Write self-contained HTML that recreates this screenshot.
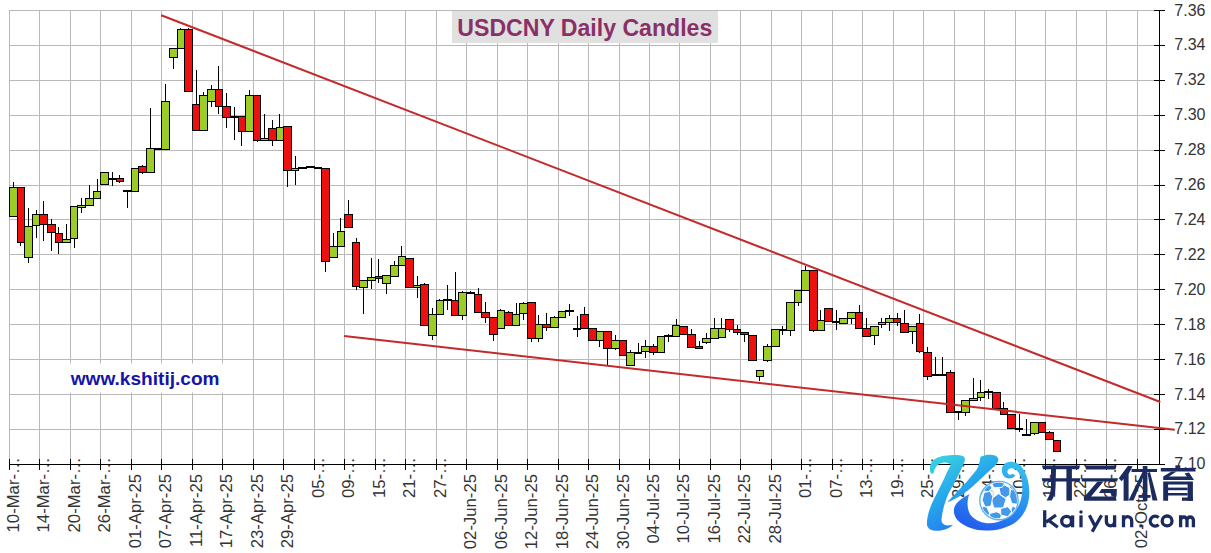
<!DOCTYPE html><html><head><meta charset="utf-8"><style>html,body{margin:0;padding:0;background:#fff;width:1211px;height:553px;overflow:hidden}svg{display:block}text{font-family:"Liberation Sans",sans-serif}</style></head><body>
<svg width="1211" height="553" viewBox="0 0 1211 553">
<rect width="1211" height="553" fill="#fff"/>
<path d="M9.5 10V464.5M39.5 10V464.5M70.5 10V464.5M100.5 10V464.5M131.5 10V464.5M161.5 10V464.5M192.5 10V464.5M222.5 10V464.5M253.5 10V464.5M283.5 10V464.5M314.5 10V464.5M344.5 10V464.5M375.5 10V464.5M405.5 10V464.5M436.5 10V464.5M466.5 10V464.5M497.5 10V464.5M527.5 10V464.5M558.5 10V464.5M588.5 10V464.5M619.5 10V464.5M649.5 10V464.5M679.5 10V464.5M710.5 10V464.5M740.5 10V464.5M771.5 10V464.5M801.5 10V464.5M832.5 10V464.5M862.5 10V464.5M893.5 10V464.5M923.5 10V464.5M954.5 10V464.5M984.5 10V464.5M1015.5 10V464.5M1045.5 10V464.5M1076.5 10V464.5M1106.5 10V464.5M1137.5 10V464.5M9.5 10.5H1159.5M9.5 45.5H1159.5M9.5 80.5H1159.5M9.5 115.5H1159.5M9.5 150.5H1159.5M9.5 185.5H1159.5M9.5 219.5H1159.5M9.5 254.5H1159.5M9.5 289.5H1159.5M9.5 324.5H1159.5M9.5 359.5H1159.5M9.5 394.5H1159.5M9.5 429.5H1159.5" stroke="#b9b9b9" stroke-width="1" fill="none"/>
<rect x="452" y="11" width="266" height="32" fill="#e0e0e0"/>
<rect x="66" y="363.5" width="158" height="29" fill="#fff"/>
<path d="M9 464.5H1165M1159.5 10V464.5M9.5 459V470M39.5 459V470M70.5 459V470M100.5 459V470M131.5 459V470M161.5 459V470M192.5 459V470M222.5 459V470M253.5 459V470M283.5 459V470M314.5 459V470M344.5 459V470M375.5 459V470M405.5 459V470M436.5 459V470M466.5 459V470M497.5 459V470M527.5 459V470M558.5 459V470M588.5 459V470M619.5 459V470M649.5 459V470M679.5 459V470M710.5 459V470M740.5 459V470M771.5 459V470M801.5 459V470M832.5 459V470M862.5 459V470M893.5 459V470M923.5 459V470M954.5 459V470M984.5 459V470M1015.5 459V470M1045.5 459V470M1076.5 459V470M1106.5 459V470M1137.5 459V470M1154 10.5H1165M1154 45.5H1165M1154 80.5H1165M1154 115.5H1165M1154 150.5H1165M1154 185.5H1165M1154 219.5H1165M1154 254.5H1165M1154 289.5H1165M1154 324.5H1165M1154 359.5H1165M1154 394.5H1165M1154 429.5H1165M1154 464.5H1165" stroke="#000" stroke-width="1" fill="none"/>
<g font-size="16" fill="#333"><text x="1174.3" y="15.5">7.36</text><text x="1174.3" y="50.41">7.34</text><text x="1174.3" y="85.32">7.32</text><text x="1174.3" y="120.23">7.30</text><text x="1174.3" y="155.14">7.28</text><text x="1174.3" y="190.05">7.26</text><text x="1174.3" y="224.96">7.24</text><text x="1174.3" y="259.87">7.22</text><text x="1174.3" y="294.78">7.20</text><text x="1174.3" y="329.69">7.18</text><text x="1174.3" y="364.6">7.16</text><text x="1174.3" y="399.51">7.14</text><text x="1174.3" y="434.42">7.12</text><text x="1174.3" y="469.33">7.10</text></g>
<g font-size="16.7" fill="#333"><text transform="translate(18.9 457.3) rotate(-90)" text-anchor="end">10-Mar-…</text><text transform="translate(49.38 457.3) rotate(-90)" text-anchor="end">14-Mar-…</text><text transform="translate(79.86 457.3) rotate(-90)" text-anchor="end">20-Mar-…</text><text transform="translate(110.34 457.3) rotate(-90)" text-anchor="end">26-Mar-…</text><text transform="translate(140.82 474) rotate(-90)" text-anchor="end">01-Apr-25</text><text transform="translate(171.3 474) rotate(-90)" text-anchor="end">07-Apr-25</text><text transform="translate(201.78 474) rotate(-90)" text-anchor="end">11-Apr-25</text><text transform="translate(232.26 474) rotate(-90)" text-anchor="end">17-Apr-25</text><text transform="translate(262.74 474) rotate(-90)" text-anchor="end">23-Apr-25</text><text transform="translate(293.22 474) rotate(-90)" text-anchor="end">29-Apr-25</text><text transform="translate(323.7 457.3) rotate(-90)" text-anchor="end">05-…</text><text transform="translate(354.18 457.3) rotate(-90)" text-anchor="end">09-…</text><text transform="translate(384.66 457.3) rotate(-90)" text-anchor="end">15-…</text><text transform="translate(415.14 457.3) rotate(-90)" text-anchor="end">21-…</text><text transform="translate(445.62 457.3) rotate(-90)" text-anchor="end">27-…</text><text transform="translate(476.1 474) rotate(-90)" text-anchor="end">02-Jun-25</text><text transform="translate(506.58 474) rotate(-90)" text-anchor="end">06-Jun-25</text><text transform="translate(537.06 474) rotate(-90)" text-anchor="end">12-Jun-25</text><text transform="translate(567.54 474) rotate(-90)" text-anchor="end">18-Jun-25</text><text transform="translate(598.02 474) rotate(-90)" text-anchor="end">24-Jun-25</text><text transform="translate(628.5 474) rotate(-90)" text-anchor="end">30-Jun-25</text><text transform="translate(658.98 474) rotate(-90)" text-anchor="end">04-Jul-25</text><text transform="translate(689.46 474) rotate(-90)" text-anchor="end">10-Jul-25</text><text transform="translate(719.94 474) rotate(-90)" text-anchor="end">16-Jul-25</text><text transform="translate(750.42 474) rotate(-90)" text-anchor="end">22-Jul-25</text><text transform="translate(780.9 474) rotate(-90)" text-anchor="end">28-Jul-25</text><text transform="translate(811.38 457.3) rotate(-90)" text-anchor="end">01-…</text><text transform="translate(841.86 457.3) rotate(-90)" text-anchor="end">07-…</text><text transform="translate(872.34 457.3) rotate(-90)" text-anchor="end">13-…</text><text transform="translate(902.82 457.3) rotate(-90)" text-anchor="end">19-…</text><text transform="translate(933.3 457.3) rotate(-90)" text-anchor="end">25-…</text><text transform="translate(963.78 457.3) rotate(-90)" text-anchor="end">29-…</text><text transform="translate(994.26 457.3) rotate(-90)" text-anchor="end">04-…</text><text transform="translate(1024.74 457.3) rotate(-90)" text-anchor="end">10-…</text><text transform="translate(1055.22 457.3) rotate(-90)" text-anchor="end">16-…</text><text transform="translate(1085.7 457.3) rotate(-90)" text-anchor="end">22-…</text><text transform="translate(1116.18 457.3) rotate(-90)" text-anchor="end">26-…</text><text transform="translate(1146.66 474) rotate(-90)" text-anchor="end">02-Oct-25</text></g>
<path d="M13.5 182V187M20.5 242V246M28.5 208V226M28.5 257V263M36.5 210V214M36.5 225V238M43.5 201V214M43.5 224V241M51.5 219V224M51.5 232V251M58.5 227V233M58.5 242V254M66.5 224V239M74.5 238V248M81.5 198V205M81.5 207V213M89.5 185V198M97.5 179V191M112.5 172V179M112.5 179V186M119.5 175V178M119.5 181V183M127.5 191V208M142.5 165V166M142.5 172V174M150.5 108V148M165.5 84V101M173.5 57V69M180.5 28V29M188.5 28V29M196.5 70V104M203.5 92V95M211.5 85V89M211.5 101V107M218.5 66V89M218.5 106V114M226.5 93V106M226.5 117V128M234.5 107V117M234.5 117V140M241.5 131V146M249.5 90V95M257.5 140V142M264.5 114V138M264.5 140V141M272.5 120V128M272.5 140V146M279.5 114V127M287.5 170V187M295.5 156V168M295.5 170V185M325.5 261V272M333.5 233V246M340.5 218V231M348.5 200V214M356.5 238V242M356.5 286V290M363.5 287V314M371.5 258V277M371.5 280V289M378.5 259V276M378.5 278V283M386.5 283V294M394.5 261V265M401.5 246V256M417.5 276V285M417.5 287V298M424.5 283V284M432.5 308V314M432.5 335V340M439.5 299V300M447.5 285V300M447.5 300V310M455.5 272V300M462.5 291V292M462.5 315V320M470.5 291V293M478.5 288V294M478.5 312V313M485.5 302V312M485.5 317V323M493.5 334V341M500.5 309V310M508.5 311V312M516.5 303V314M523.5 302V303M523.5 313V320M531.5 338V342M538.5 315V324M538.5 338V342M546.5 313V324M546.5 327V331M554.5 316V317M569.5 304V311M569.5 311V316M577.5 316V329M577.5 329V337M584.5 307V314M599.5 340V347M607.5 348V365M615.5 335V340M615.5 348V350M622.5 355V355M630.5 350V352M638.5 343V352M645.5 340V346M645.5 351V358M653.5 344V346M653.5 352V355M668.5 334V336M668.5 336V342M676.5 319V325M691.5 329V334M691.5 347V348M699.5 341V346M706.5 333V338M706.5 342V344M714.5 318V328M721.5 318V328M729.5 329V332M737.5 325V329M737.5 332V335M744.5 334V342M759.5 376V381M767.5 344V346M767.5 360V362M782.5 326V330M782.5 330V335M790.5 330V336M798.5 302V306M805.5 266V270M813.5 330V332M820.5 310V320M836.5 310V322M836.5 322V330M843.5 318V318M851.5 318V324M859.5 305V312M866.5 318V328M874.5 335V345M881.5 318V322M881.5 324V328M889.5 315V318M889.5 322V331M897.5 313V318M897.5 322V326M904.5 310V323M912.5 331V344M919.5 314V323M919.5 351V353M927.5 347V352M927.5 376V380M935.5 357V375M942.5 357V375M950.5 370V372M958.5 412V420M965.5 412V416M973.5 378V398M980.5 380V392M980.5 397V401M988.5 389V392M988.5 392V399M1003.5 402V408M1019.5 414V429M1019.5 429V432M1026.5 419V434M1034.5 433V435M1049.5 431V432" stroke="#000" stroke-width="1" fill="none"/>
<rect x="9.5" y="187.5" width="8" height="29" fill="#9bcc28" stroke="#000" stroke-width="1"/><rect x="17.5" y="187.5" width="7" height="55" fill="#ec1010" stroke="#000" stroke-width="1"/><rect x="24.5" y="226.5" width="8" height="31" fill="#9bcc28" stroke="#000" stroke-width="1"/><rect x="32.5" y="214.5" width="7" height="11" fill="#9bcc28" stroke="#000" stroke-width="1"/><rect x="39.5" y="214.5" width="8" height="10" fill="#ec1010" stroke="#000" stroke-width="1"/><rect x="47.5" y="224.5" width="8" height="8" fill="#ec1010" stroke="#000" stroke-width="1"/><rect x="55.5" y="233.5" width="7" height="9" fill="#ec1010" stroke="#000" stroke-width="1"/><rect x="62.5" y="239.5" width="8" height="3" fill="#9bcc28" stroke="#000" stroke-width="1"/><rect x="70.5" y="206.5" width="7" height="32" fill="#9bcc28" stroke="#000" stroke-width="1"/><rect x="77.5" y="205.5" width="8" height="2" fill="#9bcc28" stroke="#000" stroke-width="1"/><rect x="85.5" y="198.5" width="8" height="7" fill="#9bcc28" stroke="#000" stroke-width="1"/><rect x="93.5" y="191.5" width="7" height="7" fill="#9bcc28" stroke="#000" stroke-width="1"/><rect x="100.5" y="172.5" width="8" height="12" fill="#9bcc28" stroke="#000" stroke-width="1"/><rect x="108" y="178" width="9" height="2" fill="#000"/><rect x="116.5" y="178.5" width="7" height="3" fill="#ec1010" stroke="#000" stroke-width="1"/><rect x="123" y="190" width="9" height="2" fill="#000"/><rect x="131.5" y="168.5" width="7" height="23" fill="#9bcc28" stroke="#000" stroke-width="1"/><rect x="138.5" y="166.5" width="8" height="6" fill="#ec1010" stroke="#000" stroke-width="1"/><rect x="146.5" y="148.5" width="8" height="24" fill="#9bcc28" stroke="#000" stroke-width="1"/><rect x="154" y="148" width="8" height="2" fill="#000"/><rect x="161.5" y="101.5" width="8" height="48" fill="#9bcc28" stroke="#000" stroke-width="1"/><rect x="169.5" y="48.5" width="8" height="9" fill="#9bcc28" stroke="#000" stroke-width="1"/><rect x="177.5" y="29.5" width="7" height="19" fill="#9bcc28" stroke="#000" stroke-width="1"/><rect x="184.5" y="29.5" width="8" height="62" fill="#ec1010" stroke="#000" stroke-width="1"/><rect x="192.5" y="104.5" width="7" height="26" fill="#ec1010" stroke="#000" stroke-width="1"/><rect x="199.5" y="95.5" width="8" height="35" fill="#9bcc28" stroke="#000" stroke-width="1"/><rect x="207.5" y="89.5" width="8" height="12" fill="#9bcc28" stroke="#000" stroke-width="1"/><rect x="215.5" y="89.5" width="7" height="17" fill="#ec1010" stroke="#000" stroke-width="1"/><rect x="222.5" y="106.5" width="8" height="11" fill="#ec1010" stroke="#000" stroke-width="1"/><rect x="230" y="116" width="9" height="2" fill="#000"/><rect x="238.5" y="116.5" width="7" height="15" fill="#ec1010" stroke="#000" stroke-width="1"/><rect x="245.5" y="95.5" width="8" height="36" fill="#9bcc28" stroke="#000" stroke-width="1"/><rect x="253.5" y="95.5" width="7" height="45" fill="#ec1010" stroke="#000" stroke-width="1"/><rect x="260.5" y="138.5" width="8" height="2" fill="#9bcc28" stroke="#000" stroke-width="1"/><rect x="268.5" y="128.5" width="8" height="12" fill="#ec1010" stroke="#000" stroke-width="1"/><rect x="276.5" y="127.5" width="7" height="13" fill="#9bcc28" stroke="#000" stroke-width="1"/><rect x="283.5" y="126.5" width="8" height="44" fill="#ec1010" stroke="#000" stroke-width="1"/><rect x="291.5" y="168.5" width="7" height="2" fill="#9bcc28" stroke="#000" stroke-width="1"/><rect x="298" y="167" width="9" height="2" fill="#000"/><rect x="306" y="166" width="9" height="2" fill="#000"/><rect x="314" y="167" width="8" height="2" fill="#000"/><rect x="321.5" y="168.5" width="8" height="93" fill="#ec1010" stroke="#000" stroke-width="1"/><rect x="329.5" y="246.5" width="8" height="11" fill="#9bcc28" stroke="#000" stroke-width="1"/><rect x="337.5" y="231.5" width="7" height="15" fill="#9bcc28" stroke="#000" stroke-width="1"/><rect x="344.5" y="214.5" width="8" height="13" fill="#ec1010" stroke="#000" stroke-width="1"/><rect x="352.5" y="242.5" width="7" height="44" fill="#ec1010" stroke="#000" stroke-width="1"/><rect x="359.5" y="280.5" width="8" height="7" fill="#9bcc28" stroke="#000" stroke-width="1"/><rect x="367.5" y="277.5" width="8" height="3" fill="#9bcc28" stroke="#000" stroke-width="1"/><rect x="375.5" y="276.5" width="7" height="2" fill="#ec1010" stroke="#000" stroke-width="1"/><rect x="382.5" y="275.5" width="8" height="8" fill="#9bcc28" stroke="#000" stroke-width="1"/><rect x="390.5" y="265.5" width="8" height="11" fill="#9bcc28" stroke="#000" stroke-width="1"/><rect x="398.5" y="256.5" width="7" height="9" fill="#9bcc28" stroke="#000" stroke-width="1"/><rect x="405.5" y="258.5" width="8" height="29" fill="#ec1010" stroke="#000" stroke-width="1"/><rect x="413.5" y="285.5" width="7" height="2" fill="#9bcc28" stroke="#000" stroke-width="1"/><rect x="420.5" y="284.5" width="8" height="41" fill="#ec1010" stroke="#000" stroke-width="1"/><rect x="428.5" y="314.5" width="8" height="21" fill="#9bcc28" stroke="#000" stroke-width="1"/><rect x="436.5" y="300.5" width="7" height="14" fill="#9bcc28" stroke="#000" stroke-width="1"/><rect x="443" y="299" width="9" height="2" fill="#000"/><rect x="451.5" y="300.5" width="7" height="15" fill="#ec1010" stroke="#000" stroke-width="1"/><rect x="458.5" y="292.5" width="8" height="23" fill="#9bcc28" stroke="#000" stroke-width="1"/><rect x="466" y="292" width="9" height="2" fill="#000"/><rect x="474.5" y="294.5" width="7" height="18" fill="#ec1010" stroke="#000" stroke-width="1"/><rect x="481.5" y="312.5" width="8" height="5" fill="#ec1010" stroke="#000" stroke-width="1"/><rect x="489.5" y="317.5" width="8" height="17" fill="#ec1010" stroke="#000" stroke-width="1"/><rect x="497.5" y="310.5" width="7" height="18" fill="#9bcc28" stroke="#000" stroke-width="1"/><rect x="504.5" y="312.5" width="8" height="13" fill="#ec1010" stroke="#000" stroke-width="1"/><rect x="512.5" y="314.5" width="7" height="11" fill="#9bcc28" stroke="#000" stroke-width="1"/><rect x="519.5" y="303.5" width="8" height="10" fill="#9bcc28" stroke="#000" stroke-width="1"/><rect x="527.5" y="302.5" width="8" height="36" fill="#ec1010" stroke="#000" stroke-width="1"/><rect x="535.5" y="324.5" width="7" height="14" fill="#9bcc28" stroke="#000" stroke-width="1"/><rect x="542.5" y="324.5" width="8" height="3" fill="#ec1010" stroke="#000" stroke-width="1"/><rect x="550.5" y="317.5" width="8" height="10" fill="#9bcc28" stroke="#000" stroke-width="1"/><rect x="558.5" y="311.5" width="7" height="6" fill="#9bcc28" stroke="#000" stroke-width="1"/><rect x="565" y="310" width="9" height="2" fill="#000"/><rect x="573" y="328" width="8" height="2" fill="#000"/><rect x="580.5" y="314.5" width="8" height="14" fill="#ec1010" stroke="#000" stroke-width="1"/><rect x="588.5" y="328.5" width="8" height="12" fill="#ec1010" stroke="#000" stroke-width="1"/><rect x="596.5" y="331.5" width="7" height="9" fill="#9bcc28" stroke="#000" stroke-width="1"/><rect x="603.5" y="331.5" width="8" height="17" fill="#ec1010" stroke="#000" stroke-width="1"/><rect x="611.5" y="340.5" width="8" height="8" fill="#9bcc28" stroke="#000" stroke-width="1"/><rect x="619.5" y="340.5" width="7" height="15" fill="#ec1010" stroke="#000" stroke-width="1"/><rect x="626.5" y="352.5" width="8" height="13" fill="#9bcc28" stroke="#000" stroke-width="1"/><rect x="634.5" y="352.5" width="7" height="1" fill="#9bcc28" stroke="#000" stroke-width="1"/><rect x="641.5" y="346.5" width="8" height="5" fill="#9bcc28" stroke="#000" stroke-width="1"/><rect x="649.5" y="346.5" width="8" height="6" fill="#ec1010" stroke="#000" stroke-width="1"/><rect x="657.5" y="336.5" width="7" height="16" fill="#9bcc28" stroke="#000" stroke-width="1"/><rect x="664" y="335" width="9" height="2" fill="#000"/><rect x="672.5" y="325.5" width="7" height="11" fill="#9bcc28" stroke="#000" stroke-width="1"/><rect x="679.5" y="326.5" width="8" height="8" fill="#ec1010" stroke="#000" stroke-width="1"/><rect x="687.5" y="334.5" width="8" height="13" fill="#ec1010" stroke="#000" stroke-width="1"/><rect x="695.5" y="346.5" width="7" height="2" fill="#ec1010" stroke="#000" stroke-width="1"/><rect x="702.5" y="338.5" width="8" height="4" fill="#9bcc28" stroke="#000" stroke-width="1"/><rect x="710.5" y="328.5" width="8" height="10" fill="#9bcc28" stroke="#000" stroke-width="1"/><rect x="718.5" y="328.5" width="7" height="9" fill="#9bcc28" stroke="#000" stroke-width="1"/><rect x="725.5" y="319.5" width="8" height="10" fill="#ec1010" stroke="#000" stroke-width="1"/><rect x="733.5" y="329.5" width="7" height="3" fill="#ec1010" stroke="#000" stroke-width="1"/><rect x="740.5" y="332.5" width="8" height="2" fill="#ec1010" stroke="#000" stroke-width="1"/><rect x="748.5" y="335.5" width="8" height="25" fill="#ec1010" stroke="#000" stroke-width="1"/><rect x="756.5" y="370.5" width="7" height="6" fill="#9bcc28" stroke="#000" stroke-width="1"/><rect x="763.5" y="346.5" width="8" height="14" fill="#9bcc28" stroke="#000" stroke-width="1"/><rect x="771.5" y="329.5" width="8" height="17" fill="#9bcc28" stroke="#000" stroke-width="1"/><rect x="779" y="329" width="8" height="2" fill="#000"/><rect x="786.5" y="302.5" width="8" height="28" fill="#9bcc28" stroke="#000" stroke-width="1"/><rect x="794.5" y="290.5" width="7" height="12" fill="#9bcc28" stroke="#000" stroke-width="1"/><rect x="801.5" y="270.5" width="8" height="20" fill="#9bcc28" stroke="#000" stroke-width="1"/><rect x="809.5" y="270.5" width="8" height="60" fill="#ec1010" stroke="#000" stroke-width="1"/><rect x="817.5" y="320.5" width="7" height="10" fill="#9bcc28" stroke="#000" stroke-width="1"/><rect x="824.5" y="308.5" width="8" height="13" fill="#ec1010" stroke="#000" stroke-width="1"/><rect x="832" y="321" width="8" height="2" fill="#000"/><rect x="839.5" y="318.5" width="8" height="5" fill="#9bcc28" stroke="#000" stroke-width="1"/><rect x="847.5" y="312.5" width="8" height="6" fill="#9bcc28" stroke="#000" stroke-width="1"/><rect x="855.5" y="312.5" width="7" height="16" fill="#ec1010" stroke="#000" stroke-width="1"/><rect x="862.5" y="328.5" width="8" height="8" fill="#ec1010" stroke="#000" stroke-width="1"/><rect x="870.5" y="326.5" width="8" height="9" fill="#9bcc28" stroke="#000" stroke-width="1"/><rect x="878.5" y="322.5" width="7" height="2" fill="#9bcc28" stroke="#000" stroke-width="1"/><rect x="885.5" y="318.5" width="8" height="4" fill="#9bcc28" stroke="#000" stroke-width="1"/><rect x="893.5" y="318.5" width="7" height="4" fill="#ec1010" stroke="#000" stroke-width="1"/><rect x="900.5" y="323.5" width="8" height="9" fill="#ec1010" stroke="#000" stroke-width="1"/><rect x="908.5" y="326.5" width="8" height="5" fill="#9bcc28" stroke="#000" stroke-width="1"/><rect x="916.5" y="323.5" width="7" height="28" fill="#ec1010" stroke="#000" stroke-width="1"/><rect x="923.5" y="352.5" width="8" height="24" fill="#ec1010" stroke="#000" stroke-width="1"/><rect x="931" y="374" width="9" height="2" fill="#000"/><rect x="939" y="374" width="8" height="2" fill="#000"/><rect x="946.5" y="372.5" width="8" height="40" fill="#ec1010" stroke="#000" stroke-width="1"/><rect x="954" y="411" width="8" height="2" fill="#000"/><rect x="961.5" y="400.5" width="8" height="12" fill="#9bcc28" stroke="#000" stroke-width="1"/><rect x="969.5" y="398.5" width="8" height="2" fill="#9bcc28" stroke="#000" stroke-width="1"/><rect x="977.5" y="392.5" width="7" height="5" fill="#9bcc28" stroke="#000" stroke-width="1"/><rect x="984" y="391" width="9" height="2" fill="#000"/><rect x="992.5" y="392.5" width="8" height="16" fill="#ec1010" stroke="#000" stroke-width="1"/><rect x="1000.5" y="408.5" width="7" height="6" fill="#ec1010" stroke="#000" stroke-width="1"/><rect x="1007.5" y="414.5" width="8" height="14" fill="#ec1010" stroke="#000" stroke-width="1"/><rect x="1015" y="428" width="8" height="2" fill="#000"/><rect x="1022.5" y="434.5" width="8" height="1" fill="#9bcc28" stroke="#000" stroke-width="1"/><rect x="1030.5" y="422.5" width="8" height="11" fill="#9bcc28" stroke="#000" stroke-width="1"/><rect x="1038.5" y="422.5" width="7" height="10" fill="#ec1010" stroke="#000" stroke-width="1"/><rect x="1045.5" y="432.5" width="8" height="7" fill="#ec1010" stroke="#000" stroke-width="1"/><rect x="1053.5" y="440.5" width="7" height="11" fill="#ec1010" stroke="#000" stroke-width="1"/>
<g stroke="#c42a2a" stroke-width="2" stroke-linecap="butt" fill="none"><path d="M161.2 15.2L1160.3 402"/><path d="M344.1 336.1L1174.8 429.8"/></g>
<text x="457.3" y="35.6" font-size="23.1" font-weight="bold" fill="#8a3066">USDCNY Daily Candles</text>
<text x="70.7" y="385" font-size="19.1" font-weight="bold" fill="#1515a5">www.kshitij.com</text>
<defs>
<linearGradient id="kg" x1="935" y1="452" x2="985" y2="532" gradientUnits="userSpaceOnUse">
<stop offset="0" stop-color="#3ad8e0"/><stop offset="0.45" stop-color="#26a8ec"/><stop offset="1" stop-color="#2266ee"/>
</linearGradient>
<linearGradient id="sg" x1="1020" y1="458" x2="990" y2="532" gradientUnits="userSpaceOnUse">
<stop offset="0" stop-color="#36c8f0"/><stop offset="0.5" stop-color="#2a96ee"/><stop offset="1" stop-color="#2460ee"/>
</linearGradient>
<clipPath id="bc"><circle cx="999" cy="500.6" r="18"/></clipPath>
</defs>
<g>
<path fill="url(#kg)" d="M930.8 473.5C929 469 929.8 463.5 933 460.5C937 457 943 455.6 949.3 455.3C955 455 960.5 454.8 963.5 456.5C965.5 458 965 461 963.8 463.5C961 470 957.5 477 954.5 482.5L948 494.6C945 502 942 512 941.5 519.7C941.3 522.5 943 524.5 946.9 525.4L953 525C950 527.5 945 530.5 938.5 530.8C932 531 927 529 926.9 524C926.9 516 930 507 933.5 500L944.6 477.7C947 472 949.5 467.5 951 464.8C948.5 462.8 946 462.3 943.3 462.5C939.5 463 936.5 465.5 935 468.5C934 470.5 933.6 472 933.5 473.5Z"/>
<path fill="url(#kg)" d="M980.5 456.8C984 455 988 454.5 991 454.7C995 455 998 456.3 998.5 459.5C998 463 995.5 465.5 993 467.5L972 487C965 493 957 499 947.2 502.3C951 498 953.5 495.5 956 493L966.5 482L976 470.5C978.5 467 979.5 463.5 980.5 456.8Z"/>
<path fill="url(#sg)" d="M969.4 494C964 497 956.5 501.5 954.5 507C952.8 512 954.5 518.5 960.8 523C967 527.5 975 530.3 985 530.6C995 530.8 1005 528.5 1013 524C1022 518.5 1028 509 1029.2 496C1030 486 1027.5 473 1020.5 465.5C1015 460.5 1007 460.5 1003.5 465C1000.5 469 1001.5 475.5 1006 477.8C1009.5 479.5 1013.5 478.3 1015.3 475.3L1012.6 473.8C1011 475.3 1008.5 475 1007.6 473C1006.8 470.5 1008.5 468.3 1011.5 468.3C1016 468.5 1020 472.5 1021.5 479.5C1023.2 487 1022.5 497 1019 505C1015 513.5 1006 520 996 522.5C987 524.8 976.5 522 971 515.5C967 510.5 966.5 501 969.4 494Z"/>
<circle cx="999" cy="500.6" r="19.2" fill="#fff" fill-opacity="0.8" stroke="#5ab4f0" stroke-width="1.4"/>
<g fill="#4499ea" stroke="#fff" stroke-width="1" stroke-linejoin="round" clip-path="url(#bc)">
<path d="M998.6 493.6L1006.2 499.0L1003.3 508.0L993.9 508.0L991.0 499.0Z"/>
<path d="M998.9 487.8L1004.1 484.8L1009.8 487.8L1010.1 494.8L1005.6 497.8L1000.5 494.8Z"/>
<path d="M991.5 483.3L998.0 481.3L1004.8 483.3L1002.1 487.4L993.9 487.8Z"/>
<path d="M1010.5 489.5L1015.8 487.7L1018.5 496.0L1017.6 504.2L1011.7 503.6L1009.6 496.5Z"/>
<path d="M984.0 492.5L989.9 491.1L992.8 496.6L991.0 506.1L985.1 507.3L982.2 500.2Z"/>
<path d="M981.9 506.3L986.6 506.9L990.1 514.0L987.8 515.7L983.1 511.6Z"/>
<path d="M989.0 513.7L996.6 511.7L1001.9 514.3L1000.2 518.8L991.3 518.8Z"/>
<path d="M1000.7 508.5L1007.8 506.7L1011.9 511.5L1007.8 516.8L1000.7 515.0Z"/>
<path d="M1010.8 484.6L1015.0 487.5L1012.6 489.9L1009.4 487.5Z"/>
<path d="M984.5 486.8L989.3 483.8L992.2 488.0L988.1 491.8L983.4 490.9Z"/>
<path d="M1012.4 506.0L1016.0 507.8L1012.4 513.7L1011.0 510.1Z"/>
</g>
<g fill="#1c2b5e">
<path d="M1042 465.5H1080L1079 469.3H1043Z"/>
<path d="M1041.7 478.2H1080.5L1079.5 481.5H1042.5Z"/>
<path d="M1051 469L1056 469L1055.5 488C1055 494 1053.5 498 1051.5 500.6L1046.5 500.6C1049.5 496 1051 491 1051 486Z"/>
<path d="M1066.4 469H1071.9V500.6H1066.4Z"/>
<path d="M1085 465.5H1116.5L1115.5 469.5H1086Z"/>
<path d="M1081.2 478.2H1118L1117 481.5H1082Z"/>
<path d="M1097.5 481.5H1103.5L1091 496.5H1115.8L1116.5 500.8H1084L1083.8 497.5Z"/>
<path d="M1101.5 489H1116.8L1116.5 496.5H1111.5L1111 493H1099Z"/>
<path d="M1128 465.8L1132.6 466.2L1128.6 474V500.8H1123.6V479L1121.6 481.2L1118.8 478.2Z"/>
<path d="M1131.5 469H1157V472H1131.5Z"/>
<path d="M1142.8 466H1147.4V500.8H1142.8Z"/>
<path d="M1142.5 472L1145 473L1138 490L1133.5 500.5H1128.5Z"/>
<path d="M1147.5 473L1150 472L1157.5 500.5H1152.5Z"/>
<path d="M1138.5 495H1150.5V497.8H1138.5Z"/>
<path d="M1175.4 465.3H1180.3V468.3H1175.4Z"/>
<path d="M1160.8 468H1195.5V471.5H1160.8Z"/>
<path d="M1171.5 471.5L1176.5 471.5L1169 476.5H1187L1184.5 473.5L1189 472.5L1194 480H1163.2V476.5Z"/>
<path d="M1163.2 481.6H1192.9V500.8H1187.6V484.4H1168.1V500.8H1163.2Z"/>
<path d="M1168 487.6H1187.6V490.2H1168Z"/>
<path d="M1168 493H1187.6V495.5H1168Z"/>
<path d="M1182 497.5H1192.9V500.8H1182Z"/>
</g>
<g fill="none" stroke="#1c2b5e" stroke-width="3.3" stroke-linecap="butt">
<path d="M1044.7 510.3V527.3M1056 515L1046.2 522.2M1048.5 520.3L1057.8 527.3"/>
<circle cx="1066.6" cy="521.2" r="4.9"/>
<path d="M1072.6 515.4V527.3"/>
<path d="M1081 515.4V527.3"/>
<path d="M1089.4 515.2L1095.6 527.2M1101.6 515.2L1092.2 531.8"/>
<path d="M1106.4 515.2V521.8A4.1 4.1 0 0 0 1114.6 521.8V515.2M1114.6 515.2V527.3"/>
<path d="M1123.5 527.3V520.8A4.1 4.1 0 0 1 1131.7 520.8V527.3M1123.5 515.2V527.3"/>
<path d="M1158.6 517.6A4.9 4.9 0 1 0 1158.6 524.6"/>
<circle cx="1167.1" cy="520.9" r="4.9"/>
<path d="M1180.6 527.3V515.2M1180.6 520.2A3.2 3.2 0 0 1 1187 520.2V527.3M1187 520.2A3.2 3.2 0 0 1 1193.4 520.2V527.3"/>
</g>
<circle cx="1081" cy="512" r="1.7" fill="#1c2b5e"/>
<rect x="1139.4" y="524.4" width="3" height="2.9" fill="#1c2b5e"/>
</g>

</svg></body></html>
